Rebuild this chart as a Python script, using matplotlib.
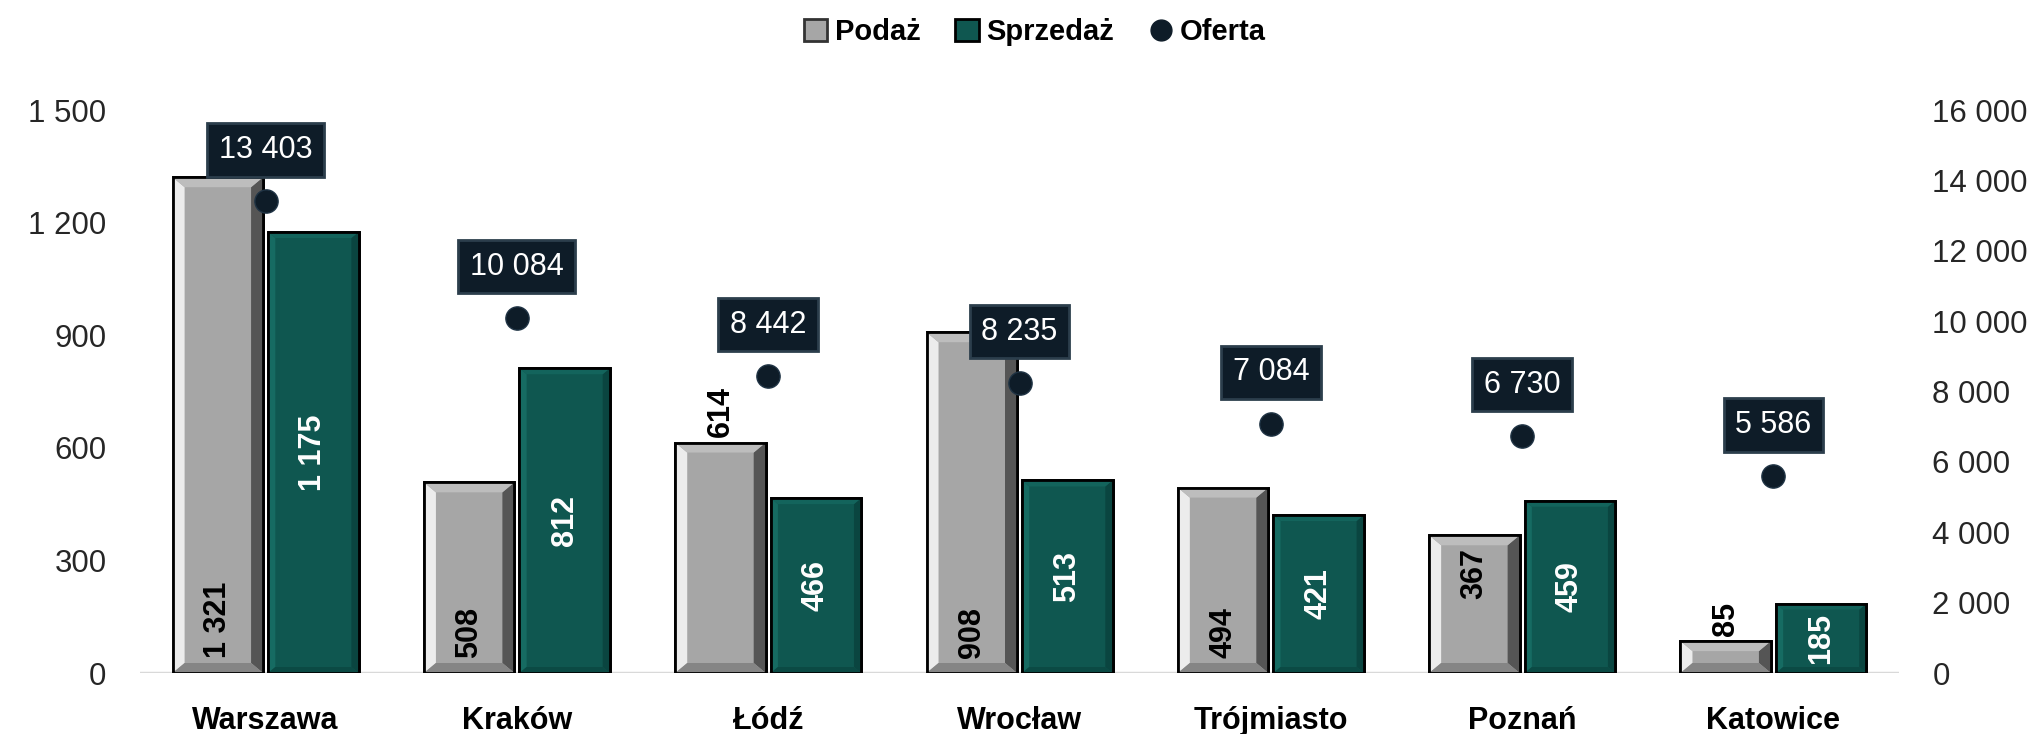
import matplotlib.pyplot as plt
import numpy as np
from matplotlib.patches import Polygon, Patch
from matplotlib.lines import Line2D
from matplotlib.ticker import FuncFormatter

cities = ['Warszawa', 'Kraków', 'Łódź', 'Wrocław', 'Trójmiasto', 'Poznań', 'Katowice']
podaz = [1321, 508, 614, 908, 494, 367, 85]
sprzedaz = [1175, 812, 466, 513, 421, 459, 185]
oferta = [13403, 10084, 8442, 8235, 7084, 6730, 5586]
# where the Podaż value label sits on each bar
podaz_label_pos = ['base', 'base', 'outside', 'base', 'base', 'inside_end', 'outside']

GRAY = '#a6a6a6'
TEAL = '#0f5750'
NAVY = '#0e1c28'
NARROW = ['Liberation Sans Narrow', 'Liberation Sans', 'DejaVu Sans']
SANS = ['Liberation Sans', 'DejaVu Sans']


def fmt_thousands(v, pos=None):
    return f'{int(v):,}'.replace(',', ' ')


def bevel_bar(ax, x0, w, h, shades, bx, by):
    """Draws bevel strips inside a bar from (x0, 0) with width w and height h."""
    bx = min(bx, w / 2)
    by = min(by, h / 2)
    x1 = x0 + w
    left_c, right_c, top_c, bottom_c = shades
    strips = [
        ([(x0, 0), (x0 + bx, by), (x0 + bx, h - by), (x0, h)], left_c),
        ([(x1, 0), (x1 - bx, by), (x1 - bx, h - by), (x1, h)], right_c),
        ([(x0, h), (x0 + bx, h - by), (x1 - bx, h - by), (x1, h)], top_c),
        ([(x0, 0), (x0 + bx, by), (x1 - bx, by), (x1, 0)], bottom_c),
    ]
    for pts, c in strips:
        ax.add_patch(Polygon(pts, closed=True, facecolor=c, edgecolor='none', zorder=2.5))


fig = plt.figure(figsize=(20.37, 7.34), dpi=100)
ax = fig.add_axes([0.0687, 0.0831, 0.8636, 0.767])
ax2 = ax.twinx()

x = np.arange(len(cities))
width = 0.36
off = 0.19

ax.set_xlim(-0.5, len(cities) - 0.5)
ax.set_ylim(0, 1500)
ax2.set_ylim(0, 16000)

# bevel size in data units (~12 px)
bx = 12 * (len(cities) / (0.8636 * 2037))
by = 10 * (1500 / (0.767 * 734))

b1 = ax.bar(x - off, podaz, width, color=GRAY, edgecolor='black', linewidth=2, zorder=2)
b2 = ax.bar(x + off, sprzedaz, width, color=TEAL, edgecolor='black', linewidth=2, zorder=2)

for rect in b1:
    bevel_bar(ax, rect.get_x(), rect.get_width(), rect.get_height(),
              ['#ececec', '#555555', '#bdbdbd', '#858585'], bx, by)
for rect in b2:
    bevel_bar(ax, rect.get_x(), rect.get_width(), rect.get_height(),
              ['#166b62', '#0a4540', '#13645c', '#0b4a44'], bx * 0.6, by * 0.6)

# outlines back on top of the bevels
for rect in list(b1) + list(b2):
    ax.add_patch(plt.Rectangle((rect.get_x(), 0), rect.get_width(), rect.get_height(),
                               fill=False, edgecolor='black', linewidth=2, zorder=2.6))

ax.axhline(0, color='#d9d9d9', linewidth=2.5, zorder=1)

# Podaż labels
for xi, v, mode in zip(x - off, podaz, podaz_label_pos):
    if mode == 'base':
        y, dy, va = 0, 11, 'bottom'
    elif mode == 'inside_end':
        y, dy, va = v, -9, 'top'
    else:
        y, dy, va = v, 4, 'bottom'
    ax.annotate(fmt_thousands(v), (xi, y), xytext=(0, dy), textcoords='offset points',
                rotation=90, ha='center', va=va, fontsize=22, fontweight='bold',
                color='black', family=SANS, zorder=4)

# Sprzedaż labels
for xi, v in zip(x + off, sprzedaz):
    ax.text(xi, v / 2, fmt_thousands(v), rotation=90, ha='center', va='center',
            fontsize=22, fontweight='bold', color='white', family=SANS, zorder=4)

# Oferta points and boxed labels
ax2.scatter(x, oferta, s=280, color=NAVY, edgecolor='#1f3344', linewidth=1, zorder=5)
for xi, v in zip(x, oferta):
    ax2.annotate(fmt_thousands(v), (xi, v), xytext=(0, 37), textcoords='offset points',
                 ha='center', va='center', fontsize=22, color='white', family=SANS,
                 bbox=dict(boxstyle='square,pad=0.38', facecolor=NAVY, edgecolor='#2c3e4c',
                           linewidth=2),
                 zorder=6)

ax.set_yticks(np.arange(0, 1501, 300))
ax2.set_yticks(np.arange(0, 16001, 2000))
ax.yaxis.set_major_formatter(FuncFormatter(fmt_thousands))
ax2.yaxis.set_major_formatter(FuncFormatter(fmt_thousands))
ax.set_xticks(x)
ax.set_xticklabels(cities)

for a in (ax, ax2):
    for s in a.spines.values():
        s.set_visible(False)
ax.tick_params(axis='y', length=0, pad=24, labelsize=22.5, labelcolor='#262626')
ax2.tick_params(axis='y', length=0, pad=24, labelsize=22.5, labelcolor='#262626')
ax.tick_params(axis='x', length=0, pad=24)
for lab in ax.get_yticklabels() + ax2.get_yticklabels():
    lab.set_family(SANS)
for lab in ax.get_xticklabels():
    lab.set_family(NARROW)
    lab.set_fontweight('bold')
    lab.set_fontsize(22)

handles = [
    Patch(facecolor=GRAY, edgecolor='#333333', linewidth=2, label='Podaż'),
    Patch(facecolor=TEAL, edgecolor='black', linewidth=2, label='Sprzedaż'),
    Line2D([], [], marker='o', linestyle='none', markersize=15, color=NAVY, label='Oferta'),
]
fig.legend(handles=handles, loc='center', bbox_to_anchor=(0.508, 0.956), ncol=3,
           frameon=False, handlelength=0.8, handleheight=0.8, handletextpad=0.25,
           columnspacing=1.2, prop={'family': NARROW, 'weight': 'bold', 'size': 21})

fig.savefig('out.png', dpi=100)
